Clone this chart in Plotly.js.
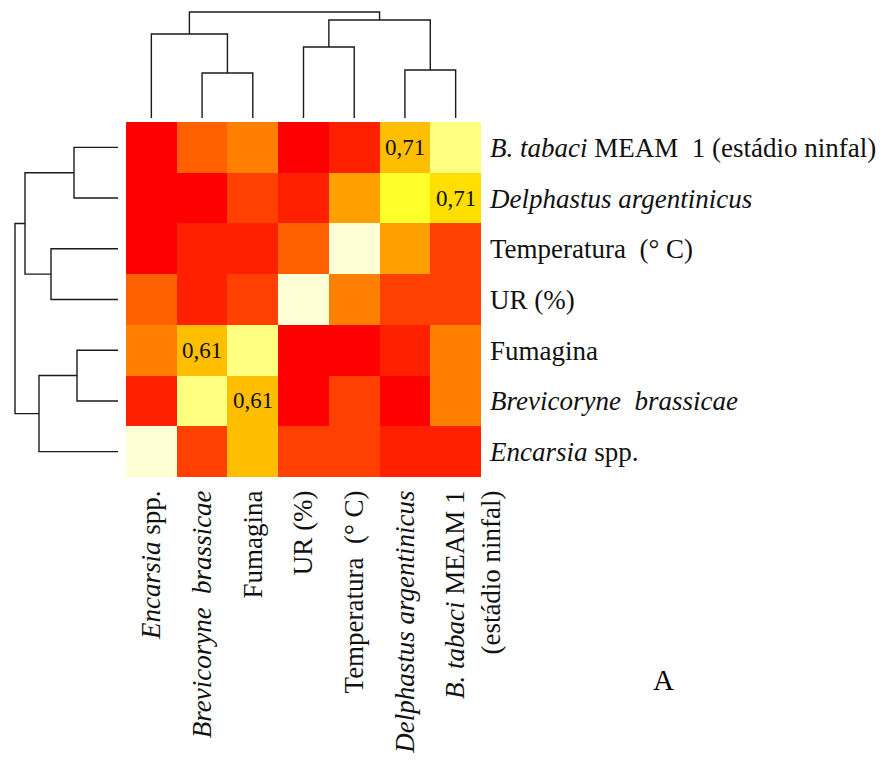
<!DOCTYPE html>
<html>
<head>
<meta charset="utf-8">
<script src="https://cdn.plot.ly/plotly-3.0.1.min.js"></script>
<style>html,body{margin:0;padding:0;background:#fff;}#chart{width:889px;height:767px;}</style>
</head>
<body>
<div id="chart"></div>
<script>
// ---- DATA ----
// Variable order (columns left->right, rows bottom->top)
const categories = ["Encarsia spp.", "Brevicoryne brassicae", "Fumagina", "UR (%)", "Temperatura (° C)", "Delphastus argentinicus", "B. tabaci MEAM 1 (estádio ninfal)"];
const rowTickText = ["<i>Encarsia</i> spp.", "<i>Brevicoryne\u00a0 brassicae</i>", "Fumagina", "UR (%)", "Temperatura\u00a0 (° C)", "<i>Delphastus argentinicus</i>", "<i>B. tabaci</i> MEAM\u00a0 1 (estádio ninfal)"];
const colTickText = ["<i>Encarsia</i> spp.", "<i>Brevicoryne\u00a0 brassicae</i>", "Fumagina", "UR (%)", "Temperatura\u00a0 (° C)", "<i>Delphastus argentinicus</i>", "\u00a0<br><i>B. tabaci</i> MEAM 1<br>(estádio ninfal)"];

// Colour level (0 = red ... 11 = pale cream) of each cell, rows bottom->top
const levelEncarsia    = [11, 2, 6, 2, 2, 1, 1];
const levelBrevicoryne = [1, 10, 6, 0, 2, 0, 4];
const levelFumagina    = [4, 6, 10, 0, 0, 1, 4];
const levelUR          = [3, 1, 2, 11, 4, 2, 2];
const levelTemperatura = [0, 1, 1, 3, 11, 5, 2];
const levelDelphastus  = [0, 0, 2, 1, 5, 9, 7];
const levelBtabaci     = [0, 3, 4, 0, 1, 6, 10];

// heat.colors(12)
const heatColors = ["#FF0000", "#FF2000", "#FF4000", "#FF6000", "#FF8000", "#FF9F00", "#FFBF00", "#FFDF00", "#FFFF00", "#FFFF2A", "#FFFF80", "#FFFFD5"];

// Correlation labels written in cells
const annoCol  = ["Delphastus argentinicus", "B. tabaci MEAM 1 (estádio ninfal)", "Brevicoryne brassicae", "Fumagina"];
const annoRow  = ["B. tabaci MEAM 1 (estádio ninfal)", "Delphastus argentinicus", "Fumagina", "Brevicoryne brassicae"];
const annoText = ["0,71", "0,71", "0,61", "0,61"];

// Column dendrogram (R hclust style merge: negative = leaf number)
const colMergeA = [-2, -6, -4, -1, 3, 4];
const colMergeB = [-3, -7, -5, 1, 2, 5];
const colMergeHeight = [45, 48, 71, 84, 98, 106];
// Row dendrogram
const rowMergeA = [-2, -6, -4, -1, 3, 4];
const rowMergeB = [-3, -7, -5, 1, 2, 5];
const rowMergeHeight = [41, 44, 67, 79, 93, 103];

// ---- BUILD ----
const z = [levelEncarsia, levelBrevicoryne, levelFumagina, levelUR, levelTemperatura, levelDelphastus, levelBtabaci];
const n = heatColors.length;
const colorscale = [];
heatColors.forEach((c, k) => { colorscale.push([k / n, c]); colorscale.push([(k + 1) / n, c]); });

function dendro(A, B, H) {
  const pos = [], hgt = [];
  const segP = [], segH = [];
  function node(id) {
    if (id < 0) return { p: -id - 1, h: 0 };
    return { p: pos[id - 1], h: hgt[id - 1] };
  }
  for (let i = 0; i < A.length; i++) {
    const a = node(A[i]), b = node(B[i]), h = H[i];
    segP.push(a.p, a.p, b.p, b.p, null);
    segH.push(a.h, h, h, b.h, null);
    pos.push((a.p + b.p) / 2);
    hgt.push(h);
  }
  return { p: segP, h: segH };
}
const colD = dendro(colMergeA, colMergeB, colMergeHeight);
const rowD = dendro(rowMergeA, rowMergeB, rowMergeHeight);

const W = 889, Hpx = 767;
const serif = "'Liberation Serif', 'Times New Roman', serif";
const hx0 = 126, hx1 = 481, hy0 = 122, hy1 = 477;

const traces = [
  {
    type: "heatmap", z: z, x: categories, y: categories,
    colorscale: colorscale, zmin: -0.5, zmax: n - 0.5,
    showscale: false, hoverinfo: "skip", xaxis: "x", yaxis: "y"
  },
  {
    type: "scatter", mode: "lines", x: colD.p, y: colD.h,
    line: { color: "#1a1a1a", width: 1.4 }, xaxis: "x2", yaxis: "y2",
    hoverinfo: "skip", showlegend: false
  },
  {
    type: "scatter", mode: "lines", x: rowD.h, y: rowD.p,
    line: { color: "#1a1a1a", width: 1.4 }, xaxis: "x3", yaxis: "y3",
    hoverinfo: "skip", showlegend: false
  }
];

const colTop = Math.max(...colMergeHeight) + 2;
const rowTop = Math.max(...rowMergeHeight) + 2;

const annotations = annoText.map((t, i) => ({
  x: annoCol[i], y: annoRow[i], xref: "x", yref: "y", text: t, showarrow: false,
  font: { family: serif, size: 23, color: "#111" }
}));
annotations.push({
  x: 676 / W, y: 1 - 698 / Hpx, xref: "paper", yref: "paper", text: "A", showarrow: false,
  font: { family: serif, size: 29, color: "#000" }
});

const layout = {
  width: W, height: Hpx,
  margin: { l: 0, r: 0, t: 0, b: 0 },
  paper_bgcolor: "#fff", plot_bgcolor: "#fff",
  showlegend: false,
  xaxis: {
    domain: [hx0 / W, hx1 / W], anchor: "y", type: "category",
    tickmode: "array", tickvals: categories, ticktext: colTickText,
    tickangle: -90, ticks: "", ticklabelstandoff: 7,
    tickfont: { family: serif, size: 27, color: "#111" },
    showgrid: false, zeroline: false, showline: false, fixedrange: true
  },
  yaxis: {
    domain: [1 - hy1 / Hpx, 1 - hy0 / Hpx], anchor: "x", side: "right", type: "category",
    tickmode: "array", tickvals: categories, ticktext: rowTickText,
    ticks: "", ticklabelstandoff: 8,
    tickfont: { family: serif, size: 27, color: "#111" },
    showgrid: false, zeroline: false, showline: false, fixedrange: true
  },
  xaxis2: { domain: [hx0 / W, hx1 / W], anchor: "y2", range: [-0.5, 6.5], visible: false, fixedrange: true },
  yaxis2: { domain: [1 - 118 / Hpx, 1 - (118 - colTop) / Hpx], anchor: "x2", range: [0, colTop], visible: false, fixedrange: true },
  xaxis3: { domain: [(118 - rowTop) / W, 118 / W], anchor: "y3", range: [rowTop, 0], visible: false, fixedrange: true },
  yaxis3: { domain: [1 - hy1 / Hpx, 1 - hy0 / Hpx], anchor: "x3", range: [-0.5, 6.5], visible: false, fixedrange: true },
  annotations: annotations
};

Plotly.newPlot("chart", traces, layout, { displayModeBar: false, staticPlot: true });
</script>
</body>
</html>
